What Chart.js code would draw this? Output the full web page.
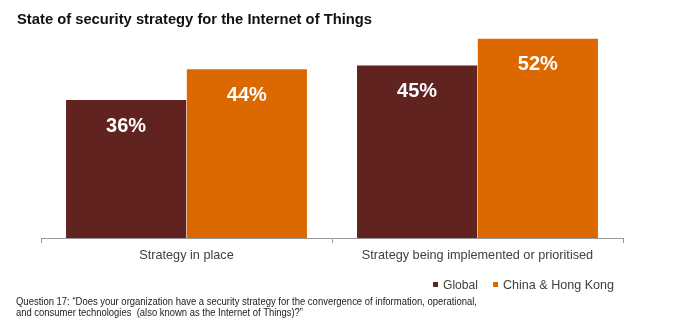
<!DOCTYPE html>
<html>
<head>
<meta charset="utf-8">
<script src="https://cdn.jsdelivr.net/npm/chart.js@4"></script>
<style>
  html, body { margin:0; padding:0; background:#fff; }
  #wrap { width:700px; height:331px; position:relative; }
</style>
</head>
<body>
<div id="wrap"><canvas id="chart" width="700" height="331"></canvas></div>
<script>
/* ===== DATA ===== */
const categories = ['Strategy in place', 'Strategy being implemented or prioritised'];
const seriesNames = ['Global', 'China & Hong Kong'];
const globalValues = [36, 45];
const chinaHkValues = [44, 52];
const seriesColors = ['#602320', '#DC6900'];

const titleText = 'State of security strategy for the Internet of Things';
const noteLines = [
  'Question 17: \u201cDoes your organization have a security strategy for the convergence of information, operational,',
  'and consumer technologies  (also known as the Internet of Things)?\u201d'
];

const FONT = '"Liberation Sans", Arial, sans-serif';

/* ===== PLUGINS ===== */
// white percentage labels near the top of every bar
const barLabels = {
  id: 'barLabels',
  afterDatasetsDraw(chart) {
    const ctx = chart.ctx;
    ctx.save();
    ctx.fillStyle = '#fff';
    ctx.font = 'bold 20px ' + FONT;
    ctx.textAlign = 'center';
    ctx.textBaseline = 'middle';
    chart.data.datasets.forEach((ds, di) => {
      chart.getDatasetMeta(di).data.forEach((bar, i) => {
        ctx.fillText(ds.data[i] + '%', bar.x, bar.y + 26);
      });
    });
    ctx.restore();
  }
};

// title, legend and the question footnote
const decorations = {
  id: 'decorations',
  afterDraw(chart) {
    const ctx = chart.ctx;
    ctx.save();
    ctx.textBaseline = 'middle';
    ctx.textAlign = 'left';

    ctx.fillStyle = '#111';
    ctx.font = 'bold 15px ' + FONT;
    ctx.fillText(titleText, 17, 20, 355);

    // legend
    const legendX = [433, 493];
    const legendW = [35, 111];
    ctx.font = '13px ' + FONT;
    chart.data.datasets.forEach((ds, i) => {
      ctx.fillStyle = ds.backgroundColor;
      ctx.fillRect(legendX[i], 282, 5, 5);
      ctx.fillStyle = '#404040';
      ctx.fillText(ds.label, legendX[i] + 10, 285, legendW[i]);
    });

    // footnote
    ctx.fillStyle = '#222';
    ctx.font = '10px ' + FONT;
    ctx.fillText(noteLines[0], 16, 302, 461);
    ctx.fillText(noteLines[1], 16, 313, 287);
    ctx.restore();
  }
};

/* ===== CHART ===== */
new Chart(document.getElementById('chart'), {
  type: 'bar',
  data: {
    labels: categories,
    datasets: [
      { label: seriesNames[0], data: globalValues, backgroundColor: seriesColors[0] },
      { label: seriesNames[1], data: chinaHkValues, backgroundColor: seriesColors[1] }
    ]
  },
  options: {
    responsive: false,
    animation: false,
    layout: { padding: { left: 41, right: 77, top: 8, bottom: 0 } },
    datasets: { bar: { categoryPercentage: 0.83, barPercentage: 0.995, borderWidth: 0 } },
    plugins: { legend: { display: false }, title: { display: false }, tooltip: { enabled: false } },
    scales: {
      x: {
        grid: { display: true, drawOnChartArea: false, drawTicks: true, tickLength: 5, color: '#9a9a9a', offset: true },
        border: { display: true, color: '#9a9a9a' },
        ticks: { color: '#404040', font: { family: FONT, size: 12.7 }, padding: 5 },
        afterFit(scale) { scale.height = 93; }
      },
      y: { display: false, min: 0, max: 60 }
    }
  },
  plugins: [barLabels, decorations]
});
</script>
</body>
</html>
